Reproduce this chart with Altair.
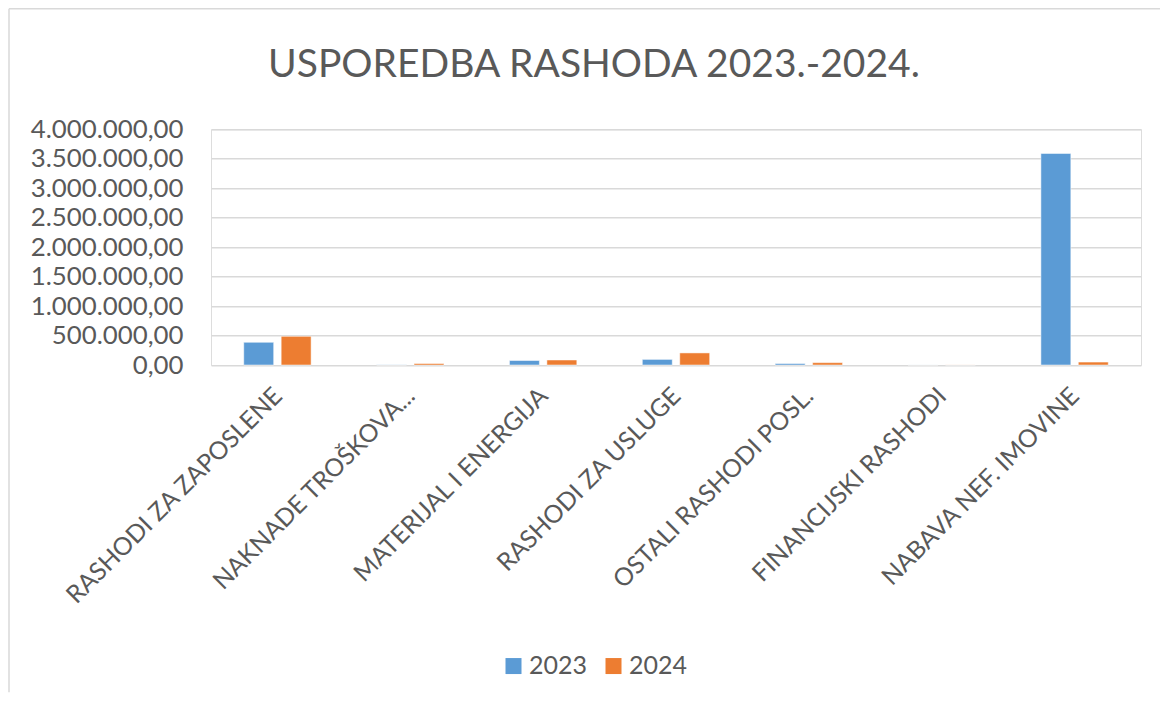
import altair as alt
import pandas as pd

categories = [
    "RASHODI ZA ZAPOSLENE",
    "NAKNADE TROŠKOVA...",
    "MATERIJAL I ENERGIJA",
    "RASHODI ZA USLUGE",
    "OSTALI RASHODI POSL.",
    "FINANCIJSKI RASHODI",
    "NABAVA NEF. IMOVINE",
]
values_2023 = [385000, 3000, 76000, 95000, 25000, 800, 3590000]
values_2024 = [487000, 25000, 85000, 205000, 40000, 1200, 50000]
years = ["2023", "2024"]
colors = ["#5B9BD5", "#ED7D31"]
y_ticks = [0, 500000, 1000000, 1500000, 2000000, 2500000, 3000000, 3500000, 4000000]

rows = []
for c, v1, v2 in zip(categories, values_2023, values_2024):
    rows.append({"kategorija": c, "godina": years[0], "iznos": v1})
    rows.append({"kategorija": c, "godina": years[1], "iznos": v2})
df = pd.DataFrame(rows)

FONT = "Lato"
TXT = "#595959"
GRID = "#D9D9D9"

label_expr = (
    "replace(join(split(join(split(format(datum.value, ',.2f'), '.'), 'D'), ','), '.'), 'D', ',')"
)

bars = alt.Chart(df).mark_bar(stroke="white", strokeWidth=0.5).encode(
    x=alt.X(
        "kategorija:N",
        sort=categories,
        title=None,
        scale=alt.Scale(paddingInner=0.493, paddingOuter=0.2465),
        axis=alt.Axis(
            labelAngle=-45,
            labelFont=FONT,
            labelFontSize=24.7,
            labelColor=TXT,
            labelPadding=18,
            labelOffset=-8,
            labelLimit=400,
            ticks=False,
            domain=False,
            grid=False,
        ),
    ),
    xOffset=alt.XOffset(
        "godina:N",
        sort=years,
        scale=alt.Scale(paddingInner=0.2, paddingOuter=0),
    ),
    y=alt.Y(
        "iznos:Q",
        title=None,
        scale=alt.Scale(domain=[0, 4000000], nice=False),
        axis=alt.Axis(
            values=y_ticks,
            labelExpr=label_expr,
            labelFont=FONT,
            labelFontSize=25.8,
            labelColor=TXT,
            labelPadding=28,
            ticks=False,
            domain=False,
            grid=True,
            gridColor=GRID,
            gridWidth=1.5,
        ),
    ),
    color=alt.Color(
        "godina:N",
        sort=years,
        scale=alt.Scale(domain=years, range=colors),
        legend=alt.Legend(
            title=None,
            orient="none",
            direction="horizontal",
            legendX=290,
            legendY=524,
            symbolType="square",
            symbolSize=256,
            symbolStrokeWidth=0,
            labelFont=FONT,
            labelFontSize=25,
            labelColor=TXT,
            labelOffset=3,
            columnPadding=13,
        ),
    ),
)

border_df = pd.DataFrame({"b": [0]})
left_edge = alt.Chart(border_df).mark_rule(color=GRID, strokeWidth=1.5).encode(
    x=alt.value(-202),
    y=alt.value(-120.5),
    y2=alt.value(563),
)
top_edge = alt.Chart(border_df).mark_rule(color=GRID, strokeWidth=1.5).encode(
    x=alt.value(-202),
    x2=alt.value(949),
    y=alt.value(-120.5),
)

chart = (
    alt.layer(left_edge, top_edge, bars)
    .properties(
        width=930,
        height=235.7,
        padding={"left": 203, "top": 121.3, "right": 19, "bottom": 328},
        autosize=alt.AutoSizeParams(type="none"),
        title=alt.TitleParams(
            text="USPOREDBA RASHODA 2023.-2024.",
            font=FONT,
            fontSize=39,
            fontWeight="normal",
            color=TXT,
            anchor="middle",
            dx=-82,
            offset=-77,
        ),
    )
    .configure_view(strokeWidth=0)
    .configure(background="white")
)

chart.save("out.html", embed_options={"renderer": "svg", "actions": False})
